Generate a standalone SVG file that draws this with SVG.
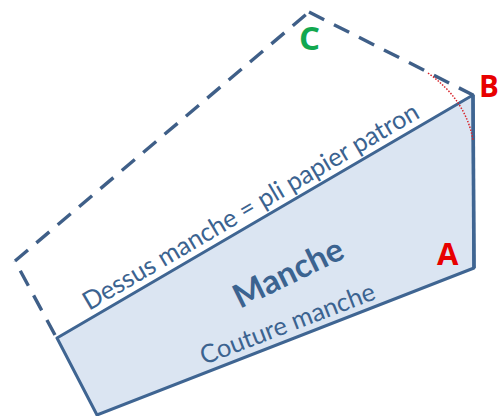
<svg xmlns="http://www.w3.org/2000/svg" width="500" height="416" viewBox="0 0 500 416">
<style>
.t{font-family:Lato,"Open Sans",sans-serif;fill:#3b6390}
.l{font-family:"Open Sans","Liberation Sans",sans-serif;font-weight:700}
.d{fill:none;stroke:#3f5f88;stroke-width:3.4;stroke-dasharray:17 11}
</style>
<rect width="500" height="416" fill="#fff"/>
<g id="manche">
<polygon points="57,338 473,95 474,268 97,415" fill="#dbe5f2" stroke="#3f6592" stroke-width="3" stroke-linejoin="round"/>
<path d="M473,95 L474,268" fill="none" stroke="#3f6592" stroke-width="3.6"/>
<text class="t" transform="translate(89,311) rotate(-30.3)" font-size="25.5">Dessus manche = pli papier patron</text>
<text class="t" transform="translate(240,309) rotate(-26)" font-size="33" font-weight="700">Manche</text>
<text class="t" transform="translate(204,365) rotate(-21)" font-size="25.5">Couture manche</text>
</g>
<g id="connectors">
<path class="d" d="M55,335 L15,261" stroke-dasharray="14 11"/>
<path class="d" d="M15,261 L309,12"/>
<path class="d" d="M309,12 L473,95"/>
<path d="M428,73 Q466,100 473,140" fill="none" stroke="#d8232a" stroke-width="1.5" stroke-dasharray="1.5 1.5"/>
</g>
<g id="labels">
<text class="l" x="299" y="50" font-size="33" fill="#12a84f">C</text>
<text class="l" x="479" y="97" font-size="29.5" fill="#e80000">B</text>
<text class="l" x="437" y="265" font-size="31" fill="#e80000">A</text>
</g>
</svg>
